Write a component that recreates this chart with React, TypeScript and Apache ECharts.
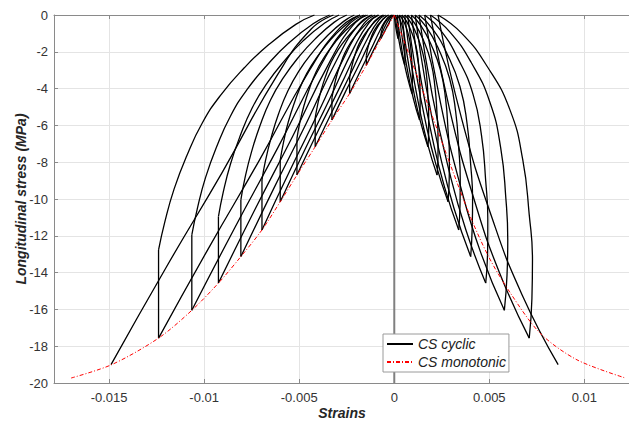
import React, { useEffect, useRef } from "react";
import * as echarts from "echarts";

// ---- envelope peaks (stress shared by both strain directions) ----
const peakStress = [-1.28, -2.73, -4.27, -5.71, -7.16, -8.7, -10.15, -11.68, -13.13, -14.57, -16.05, -17.56, -19.0];
const leftPeakStrain = [-0.0007, -0.00147, -0.00235, -0.00328, -0.00416, -0.00512, -0.006, -0.00696, -0.00807, -0.00925, -0.01065, -0.0124, -0.0149];
const leftDropStress = [-1.05, -2.21, -3.42, -4.51, -5.59, -6.7, -7.88, -8.97, -10.05, -10.96, -11.95, -12.77];

// ---- left unloading curves (from drop point to zero stress) ----
const leftUnload: number[][][] = [
  [[-0.0007, -1.05], [-0.00064, -0.78], [-0.00053, -0.48], [-0.00037, -0.24], [-0.00017, -0.04], [-0.0001, 0]],
  [[-0.00147, -2.21], [-0.00135, -1.64], [-0.00114, -1.02], [-0.001, -0.75], [-0.00083, -0.5], [-0.00065, -0.29], [-0.00044, -0.09], [-0.0003, 0]],
  [[-0.00235, -3.42], [-0.00228, -3.01], [-0.00217, -2.53], [-0.00203, -2.05], [-0.00185, -1.57], [-0.00163, -1.16], [-0.00136, -0.77], [-0.00109, -0.44], [-0.00077, -0.14], [-0.00055, 0]],
  [[-0.00328, -4.51], [-0.00318, -3.97], [-0.00304, -3.34], [-0.00284, -2.71], [-0.0026, -2.07], [-0.00231, -1.53], [-0.00194, -1.01], [-0.00158, -0.59], [-0.00114, -0.18], [-0.00085, 0]],
  [[-0.00416, -5.59], [-0.00404, -4.92], [-0.00386, -4.14], [-0.00362, -3.35], [-0.00332, -2.57], [-0.00296, -1.9], [-0.00251, -1.26], [-0.00205, -0.73], [-0.00151, -0.22], [-0.00115, 0]],
  [[-0.00512, -6.7], [-0.00498, -5.9], [-0.00476, -4.96], [-0.00447, -4.02], [-0.00411, -3.08], [-0.00367, -2.28], [-0.00313, -1.51], [-0.00259, -0.87], [-0.00193, -0.27], [-0.0015, 0]],
  [[-0.006, -7.88], [-0.00583, -6.93], [-0.00558, -5.83], [-0.00524, -4.73], [-0.00482, -3.62], [-0.00432, -2.68], [-0.00369, -1.77], [-0.00306, -1.02], [-0.0023, -0.32], [-0.0018, 0]],
  [[-0.00696, -8.97], [-0.00677, -7.89], [-0.00647, -6.64], [-0.00609, -5.38], [-0.0056, -4.13], [-0.00502, -3.05], [-0.00429, -2.02], [-0.00356, -1.17], [-0.00268, -0.36], [-0.0021, 0]],
  [[-0.00807, -10.05], [-0.00785, -8.84], [-0.00751, -7.44], [-0.00707, -6.03], [-0.00651, -4.62], [-0.00584, -3.42], [-0.00501, -2.26], [-0.00417, -1.31], [-0.00317, -0.4], [-0.0025, 0]],
  [[-0.00925, -10.96], [-0.009, -9.64], [-0.00862, -8.11], [-0.00811, -6.58], [-0.00747, -5.04], [-0.00671, -3.73], [-0.00576, -2.47], [-0.00481, -1.42], [-0.00366, -0.44], [-0.0029, 0]],
  [[-0.01065, -11.95], [-0.01036, -10.52], [-0.00993, -8.84], [-0.00935, -7.17], [-0.00862, -5.5], [-0.00775, -4.06], [-0.00666, -2.69], [-0.00558, -1.55], [-0.00427, -0.48], [-0.0034, 0]],
  [[-0.0124, -12.77], [-0.01207, -11.24], [-0.01158, -9.45], [-0.01092, -7.66], [-0.0101, -5.87], [-0.00912, -4.34], [-0.00789, -2.87], [-0.00666, -1.66], [-0.00518, -0.51], [-0.0042, 0]],
];

// ---- left reloading curves (zero stress to next peak) ----
const leftReload: number[][][] = [
  [[0, 0], [-0.00007, -0.05], [-0.000175, -0.22], [-0.00035, -0.58], [-0.000525, -0.92], [-0.0007, -1.28]],
  [[-0.00005, 0], [-0.00019, -0.11], [-0.00041, -0.46], [-0.00076, -1.23], [-0.00112, -1.97], [-0.00147, -2.73]],
  [[-0.00015, 0], [-0.00037, -0.17], [-0.0007, -0.73], [-0.00125, -1.92], [-0.0018, -3.07], [-0.00235, -4.27]],
  [[-0.0003, 0], [-0.0006, -0.23], [-0.00105, -0.97], [-0.00179, -2.57], [-0.00254, -4.11], [-0.00328, -5.71]],
  [[-0.00045, 0], [-0.00082, -0.29], [-0.00138, -1.22], [-0.00231, -3.22], [-0.00323, -5.16], [-0.00416, -7.16]],
  [[-0.0006, 0], [-0.00105, -0.35], [-0.00173, -1.48], [-0.00286, -3.92], [-0.00399, -6.26], [-0.00512, -8.7]],
  [[-0.0008, 0], [-0.00132, -0.41], [-0.0021, -1.73], [-0.0034, -4.57], [-0.0047, -7.31], [-0.006, -10.15]],
  [[-0.001, 0], [-0.0016, -0.47], [-0.00249, -1.99], [-0.00398, -5.26], [-0.00547, -8.41], [-0.00696, -11.68]],
  [[-0.0012, 0], [-0.00189, -0.53], [-0.00292, -2.23], [-0.00464, -5.91], [-0.00635, -9.45], [-0.00807, -13.13]],
  [[-0.0014, 0], [-0.00219, -0.58], [-0.00336, -2.48], [-0.00533, -6.56], [-0.00729, -10.49], [-0.00925, -14.57]],
  [[-0.0016, 0], [-0.00251, -0.64], [-0.00386, -2.73], [-0.00613, -7.22], [-0.00839, -11.56], [-0.01065, -16.05]],
  [[-0.0018, 0], [-0.00286, -0.7], [-0.00445, -2.99], [-0.0071, -7.9], [-0.00975, -12.64], [-0.0124, -17.56]],
  [[-0.0032, 0], [-0.00437, -0.76], [-0.00613, -3.23], [-0.00905, -8.55], [-0.01198, -13.68], [-0.0149, -19.0]],
];

// ---- right (positive strain) unloading curves ----
const rightUnload: number[][][] = [
  [[0.0002, -1.28], [0.00021, -1.13], [0.0002, -0.79], [0.00017, -0.38], [0.00013, -0.2], [0.00005, 0]],
  [[0.00055, -2.73], [0.00056, -2.4], [0.00056, -2.07], [0.00055, -1.69], [0.00052, -1.23], [0.00047, -0.81], [0.00037, -0.44], [0.00025, -0.16], [0.00015, 0]],
  [[0.00093, -4.27], [0.00095, -3.76], [0.00095, -3.25], [0.00093, -2.65], [0.00088, -1.92], [0.00079, -1.26], [0.00063, -0.68], [0.00044, -0.24], [0.00027, 0]],
  [[0.00133, -5.71], [0.00136, -5.02], [0.00136, -4.34], [0.00133, -3.54], [0.00127, -2.57], [0.00114, -1.68], [0.0009, -0.91], [0.00064, -0.33], [0.0004, 0]],
  [[0.00177, -7.16], [0.00181, -6.3], [0.00181, -5.44], [0.00177, -4.44], [0.00169, -3.22], [0.00151, -2.11], [0.00121, -1.15], [0.00087, -0.41], [0.00055, 0]],
  [[0.00225, -8.7], [0.0023, -7.66], [0.0023, -6.61], [0.00225, -5.39], [0.00214, -3.92], [0.00193, -2.57], [0.00154, -1.39], [0.0011, -0.5], [0.0007, 0]],
  [[0.00283, -10.15], [0.00289, -8.93], [0.0029, -7.71], [0.00283, -6.29], [0.0027, -4.57], [0.00243, -2.99], [0.00194, -1.62], [0.0014, -0.58], [0.0009, 0]],
  [[0.00339, -11.68], [0.00346, -10.28], [0.00347, -8.88], [0.00339, -7.24], [0.00323, -5.26], [0.00291, -3.45], [0.00234, -1.87], [0.0017, -0.67], [0.0011, 0]],
  [[0.00402, -13.13], [0.0041, -11.55], [0.00412, -9.98], [0.00402, -8.14], [0.00383, -5.91], [0.00345, -3.87], [0.00277, -2.1], [0.00201, -0.75], [0.0013, 0]],
  [[0.00481, -14.57], [0.00491, -12.82], [0.00492, -11.07], [0.00481, -9.03], [0.00459, -6.56], [0.00414, -4.3], [0.00333, -2.33], [0.00244, -0.83], [0.0016, 0]],
  [[0.00579, -16.05], [0.00593, -14.15], [0.00597, -12.22], [0.00587, -9.97], [0.0056, -7.24], [0.00503, -4.74], [0.00404, -2.57], [0.00292, -0.92], [0.0019, 0]],
  [[0.0071, -17.56], [0.00724, -15.42], [0.00727, -13.32], [0.0071, -10.86], [0.00676, -7.88], [0.00609, -5.17], [0.00489, -2.8], [0.00355, -1.0], [0.0023, 0]],
];

// ---- right reloading curves (zero stress to next peak) ----
const rightReload: number[][][] = [
  [[0, 0], [0.00004, -0.38], [0.00009, -0.74], [0.00014, -1.02], [0.0002, -1.28]],
  [[0.00005, 0], [0.00015, -0.82], [0.00028, -1.58], [0.0004, -2.18], [0.00055, -2.73]],
  [[0.00015, 0], [0.00031, -1.28], [0.0005, -2.48], [0.0007, -3.42], [0.00093, -4.27]],
  [[0.00027, 0], [0.00048, -1.71], [0.00075, -3.31], [0.00101, -4.57], [0.00133, -5.71]],
  [[0.0004, 0], [0.00067, -2.15], [0.00102, -4.15], [0.00136, -5.73], [0.00177, -7.16]],
  [[0.00055, 0], [0.00089, -2.61], [0.00132, -5.05], [0.00174, -6.96], [0.00225, -8.7]],
  [[0.0007, 0], [0.00113, -3.05], [0.00166, -5.89], [0.00219, -8.12], [0.00283, -10.15]],
  [[0.0009, 0], [0.0014, -3.5], [0.00202, -6.77], [0.00264, -9.34], [0.00339, -11.68]],
  [[0.0011, 0], [0.00168, -3.94], [0.00241, -7.62], [0.00314, -10.5], [0.00402, -13.13]],
  [[0.0013, 0], [0.002, -4.37], [0.00288, -8.45], [0.00376, -11.66], [0.00481, -14.57]],
  [[0.0016, 0], [0.00244, -4.82], [0.00349, -9.33], [0.00453, -12.86], [0.00579, -16.05]],
  [[0.0019, 0], [0.00294, -5.26], [0.00424, -10.16], [0.00554, -14.02], [0.0071, -17.56]],
  [[0.0023, 0], [0.00356, -5.7], [0.00514, -11.02], [0.00672, -15.2], [0.00862, -19.0]],
];

// ---- monotonic envelope ----
const monoLeftStrain = [-0.017, -0.01486, -0.0124, -0.01065, -0.00925, -0.00807, -0.00696, -0.006, -0.00512, -0.00416, -0.00328, -0.00235, -0.00147, -0.0007, 0];
const monoLeftStress = [-19.73, -19.0, -17.56, -16.05, -14.57, -13.13, -11.68, -10.15, -8.7, -7.16, -5.71, -4.27, -2.73, -1.28, 0];
const monoRightStrain = [0, 0.002, 0.0039, 0.00496, 0.0061, 0.00768, 0.00961, 0.01216];
const monoRightStress = [0, -5.5, -10.7, -13.13, -15.1, -17.3, -18.74, -19.73];

const FONT = "Liberation Sans";

export default function App() {
  const ref = useRef<HTMLDivElement>(null);
  useEffect(() => {
    const chart = echarts.init(ref.current as HTMLDivElement, null, { renderer: "svg" });
    const blackLine = { color: "#000", width: 1.3 };
    const base = { type: "line", symbol: "none", showSymbol: false, silent: true };
    const cyc = { ...base, name: "CS cyclic", lineStyle: blackLine, itemStyle: { color: "#000" }, z: 2 };
    const series: any[] = [];

    series.push({
      ...base,
      data: [[0, 0], [0, -20]],
      lineStyle: { color: "#808080", width: 2 },
      z: 1,
    });

    leftDropStress.forEach((s, i) => {
      series.push({ ...cyc, data: [[leftPeakStrain[i], peakStress[i]], [leftPeakStrain[i], s]] });
    });
    leftUnload.forEach((c) => series.push({ ...cyc, data: c, smooth: 0.5 }));
    leftReload.forEach((c) => series.push({ ...cyc, data: c, smooth: 0.5 }));
    rightUnload.forEach((c) => series.push({ ...cyc, data: c, smooth: 0.5 }));
    rightReload.forEach((c) => series.push({ ...cyc, data: c, smooth: 0.5 }));

    const redLine = { color: "#ff0000", width: 1, type: [4, 2, 1, 2] };
    const mono = { ...base, name: "CS monotonic", lineStyle: redLine, itemStyle: { color: "#ff0000" }, smooth: 0.3, z: 3 };
    series.push({ ...mono, data: monoLeftStrain.map((x, i) => [x, monoLeftStress[i]]) });
    series.push({ ...mono, data: monoRightStrain.map((x, i) => [x, monoRightStress[i]]) });

    const axisColor = "#8a8a8a";
    const labelStyle = { color: "#333", fontSize: 13, fontFamily: FONT };
    chart.setOption({
      animation: false,
      backgroundColor: "#fff",
      grid: { left: 54, right: -1, top: 15, bottom: 40, containLabel: false, outerBoundsMode: "none" },
      xAxis: [
        {
          type: "value",
          min: -0.0179,
          max: 0.0124,
          splitNumber: 6,
          axisLine: { show: true, onZero: false, lineStyle: { color: axisColor, width: 1 } },
          axisTick: { show: true, inside: true, length: 4, lineStyle: { color: axisColor } },
          axisLabel: { ...labelStyle, margin: 8, showMinLabel: false, showMaxLabel: false },
          splitLine: { show: true, lineStyle: { color: "#e4e4e4", width: 1 } },
        },
        {
          type: "value",
          position: "top",
          min: -0.0179,
          max: 0.0124,
          splitNumber: 6,
          axisLine: { show: true, onZero: false, lineStyle: { color: axisColor, width: 1 } },
          axisTick: { show: true, inside: true, length: 4, lineStyle: { color: axisColor } },
          axisLabel: { show: false },
          splitLine: { show: false },
        },
      ],
      yAxis: {
        type: "value",
        min: -20,
        max: 0,
        interval: 2,
        axisLine: { show: true, onZero: false, lineStyle: { color: axisColor, width: 1 } },
        axisTick: { show: true, inside: true, length: 4, lineStyle: { color: axisColor } },
        axisLabel: { ...labelStyle, margin: 6 },
        splitLine: { show: true, lineStyle: { color: "#e4e4e4", width: 1 } },
      },
      graphic: [
        {
          type: "text",
          x: 21,
          y: 199,
          rotation: Math.PI / 2,
          silent: true,
          style: {
            text: "Longitudinal stress (MPa)",
            fontSize: 14,
            fontWeight: "bold",
            fontStyle: "italic",
            fontFamily: FONT,
            fill: "#262626",
            align: "center",
            verticalAlign: "middle",
          },
        },
        {
          type: "text",
          x: 342,
          y: 413,
          silent: true,
          style: {
            text: "Strains",
            fontSize: 14,
            fontWeight: "bold",
            fontStyle: "italic",
            fontFamily: FONT,
            fill: "#262626",
            align: "center",
            verticalAlign: "middle",
          },
        },
      ],
      legend: {
        left: 383,
        top: 334,
        orient: "vertical",
        itemWidth: 26,
        itemHeight: 12,
        itemGap: 4,
        padding: [3, 3, 3, 3],
        backgroundColor: "#fff",
        borderColor: "#9a9a9a",
        borderWidth: 1,
        borderRadius: 0,
        selectedMode: false,
        itemStyle: { opacity: 0 },
        textStyle: { fontSize: 14, fontStyle: "italic", fontFamily: FONT, color: "#222" },
        data: ["CS cyclic", "CS monotonic"],
      },
      series,
    });
    return () => chart.dispose();
  }, []);
  return (
    <div
      ref={ref}
      style={{ position: "fixed", left: 0, top: 0, width: 629, height: 423, background: "#fff" }}
    />
  );
}
